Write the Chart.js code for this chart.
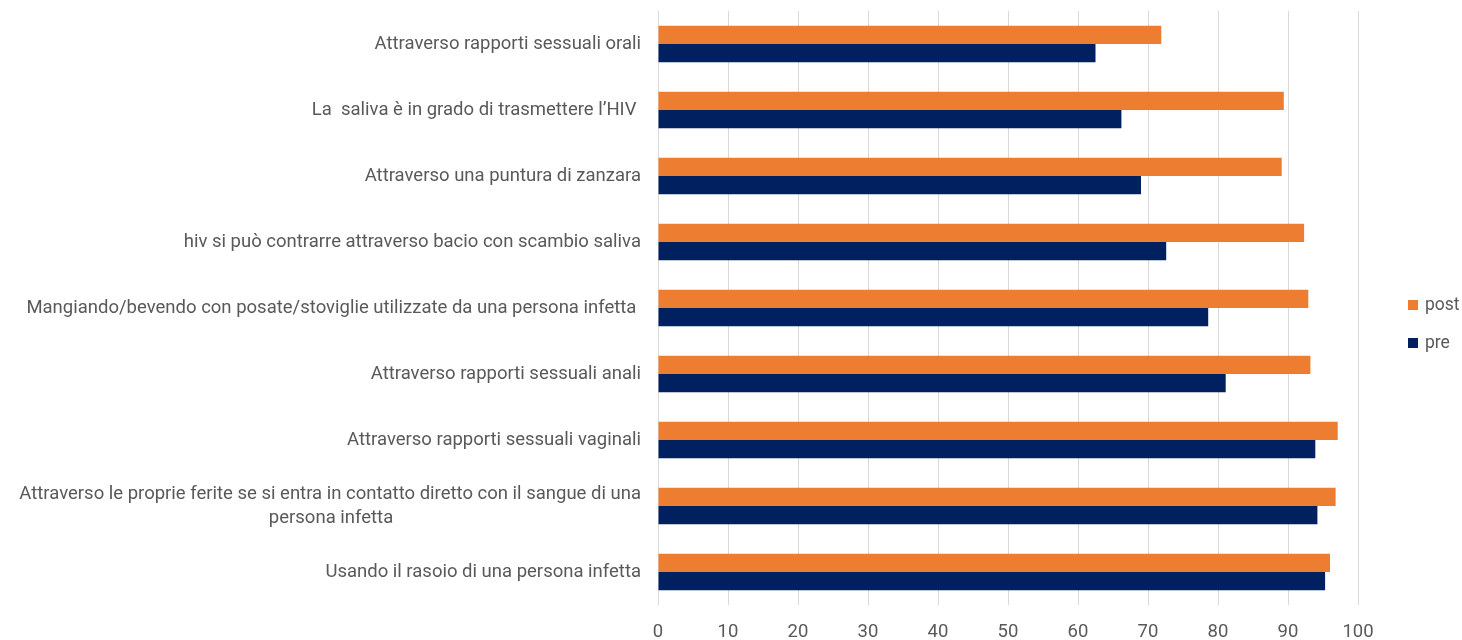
<!DOCTYPE html>
<html>
<head>
<meta charset="utf-8">
<script src="https://cdn.jsdelivr.net/npm/chart.js@4"></script>
<style>
  html, body { margin: 0; padding: 0; background: #fff; }
  #wrap { position: relative; width: 1462px; height: 640px; }
  .legend { position: absolute; left: 1408px; top: 0; font-family: Roboto, "Open Sans", sans-serif; font-size: 17.5px; color: #595959; }
  .legend div { position: absolute; white-space: nowrap; line-height: 20px; }
  .legend span { display: inline-block; width: 10px; height: 10px; margin-right: 7px; vertical-align: 0px; }
</style>
</head>
<body>
<div id="wrap">
  <canvas id="chart"></canvas>
  <div class="legend" id="legend"></div>
</div>
<script>
// categorie (dall'alto in basso)
const categories = [
    'Attraverso rapporti sessuali orali',
    'La  saliva è in grado di trasmettere l\u2019HIV ',
    'Attraverso una puntura di zanzara',
    'hiv si può contrarre attraverso bacio con scambio saliva',
    'Mangiando/bevendo con posate/stoviglie utilizzate da una persona infetta ',
    'Attraverso rapporti sessuali anali',
    'Attraverso rapporti sessuali vaginali',
    ['Attraverso le proprie ferite se si entra in contatto diretto con il sangue di una', 'persona infetta'],
    'Usando il rasoio di una persona infetta'
];
const seriesNames = ['post', 'pre'];
const seriesColors = ['#ED7D31', '#002060'];
const postValues = [71.9, 89.4, 89.1, 92.3, 92.9, 93.2, 97.1, 96.8, 96.0];
const preValues  = [62.5, 66.2, 69.0, 72.6, 78.6, 81.1, 93.9, 94.2, 95.3];
const xTicks = [0, 10, 20, 30, 40, 50, 60, 70, 80, 90, 100];

const fontFamily = 'Roboto, "Open Sans", sans-serif';
const fontSize = 18.5;
const textColor = '#595959';

// centra la seconda riga sotto la prima (le etichette sono allineate a destra)
function centerLines(lines) {
    const ctx = document.createElement('canvas').getContext('2d');
    ctx.font = fontSize + 'px ' + fontFamily;
    const full = ctx.measureText(lines[0]).width;
    const sp = ctx.measureText(' ').width;
    return lines.map((l, i) => {
        if (i === 0) return l;
        const w = ctx.measureText(l).width;
        const n = Math.round((full - w) / 2 / sp);
        return l + ' '.repeat(Math.max(0, n));
    });
}

function makeChart() {
    const labels = categories.map(c => Array.isArray(c) ? centerLines(c) : c);

    new Chart(document.getElementById('chart'), {
        type: 'bar',
        data: {
            labels: labels,
            datasets: [
                { label: seriesNames[0], data: postValues, backgroundColor: seriesColors[0], borderWidth: 0 },
                { label: seriesNames[1], data: preValues, backgroundColor: seriesColors[1], borderWidth: 0 }
            ]
        },
        options: {
            indexAxis: 'y',
            responsive: true,
            maintainAspectRatio: false,
            animation: false,
            categoryPercentage: 0.55,
            barPercentage: 1.0,
            layout: { padding: { left: 0, right: 104, top: 11, bottom: 0 } },
            scales: {
                x: {
                    min: 0,
                    max: 100,
                    afterBuildTicks: axis => { axis.ticks = xTicks.map(v => ({ value: v })); },
                    afterFit: scale => { scale.height = 35; },
                    grid: { color: '#d9d9d9', lineWidth: 1, drawTicks: false },
                    border: { display: false },
                    ticks: { color: textColor, font: { family: fontFamily, size: fontSize }, padding: 16 }
                },
                y: {
                    afterFit: scale => {
                        scale.width = 658;
                        scale.paddingTop = 0;
                        scale.paddingBottom = 0;
                    },
                    grid: { display: false, drawTicks: false },
                    border: { display: false },
                    ticks: {
                        color: textColor,
                        font: { family: fontFamily, size: fontSize, lineHeight: 1.3 },
                        padding: 17,
                        autoSkip: false
                    }
                }
            },
            plugins: {
                legend: { display: false },
                tooltip: { enabled: false }
            }
        }
    });

    // legenda
    const legend = document.getElementById('legend');
    const legendY = [303, 341];
    seriesNames.forEach((name, i) => {
        const d = document.createElement('div');
        d.style.top = (legendY[i] - 9) + 'px';
        d.innerHTML = `<span style="background:${seriesColors[i]}"></span>${name}`;
        legend.appendChild(d);
    });
}

document.fonts.load(fontSize + 'px Roboto').then(makeChart, makeChart);
</script>
</body>
</html>
